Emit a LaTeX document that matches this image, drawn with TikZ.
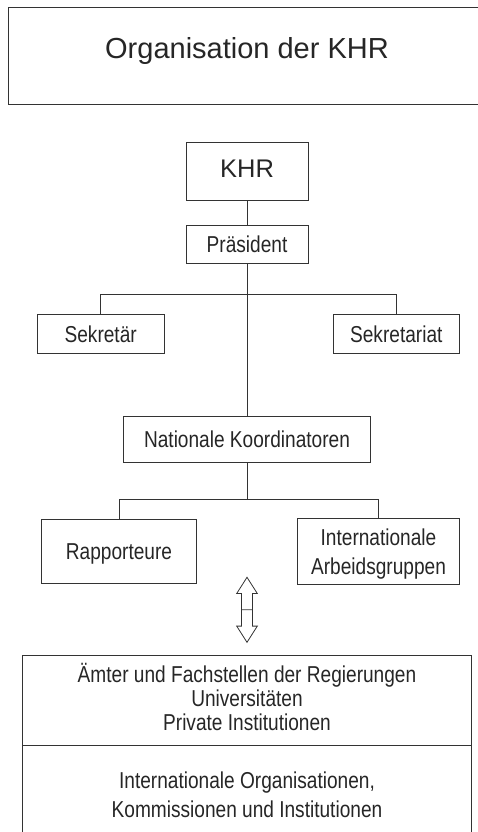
\documentclass[tikz,border=0pt]{standalone}
\usepackage{fontspec}
\setmainfont{Liberation Sans}
\newfontfamily\unitfont[FakeStretch=0.83]{Liberation Sans}
\tikzstyle{titlebox} = [rectangle, minimum width=478pt, minimum height=97pt, text centered, draw=black!80, text=black!85, font=\fontsize{29}{34}\selectfont, text height=20.8pt, text depth=14.4pt]
\tikzstyle{top} = [rectangle, minimum width=122pt, minimum height=58pt, text centered, draw=black!80, text=black!85, font=\fontsize{25.5}{30}\selectfont, text height=18.3pt, text depth=4.9pt]
\tikzstyle{unit} = [rectangle, minimum height=39pt, text centered, draw=black!80, text=black!85, font=\unitfont\fontsize{23}{28}\selectfont, text height=16.8pt, text depth=0pt]
\tikzstyle{group} = [rectangle, align=center, draw=black!80, text=black!85, font=\unitfont\fontsize{23}{29}\selectfont, text height=45.8pt, text depth=0pt]
\tikzstyle{line} = [line width=0.8pt, draw=black!80]

\begin{document}
\begin{tikzpicture}[line width=0.8pt]
\useasboundingbox (0,0) rectangle (477pt,-832pt);

\node (title) [titlebox] at (247pt,-55.5pt) {Organisation der KHR};

\node (khr) [top, below of=title, node distance=115.5pt] {KHR};
\node (pres) [unit, minimum width=122pt, minimum height=38pt, below of=khr, node distance=73pt] {Präsident};
\draw [line] (khr)--(pres);

\node (sek) [unit, minimum width=126.7pt, below of=pres, node distance=89.8pt, xshift=-146.3pt] {Sekretär};
\node (sekt) [unit, minimum width=126pt, below of=pres, node distance=89.8pt, xshift=149.3pt] {Sekretariat};
\node (natko) [unit, minimum width=246.7pt, minimum height=45.6pt, below of=pres, node distance=195.5pt] {Nationale Koordinatoren};
\coordinate (fork1) at ([yshift=20pt]sek.north -| pres);
\draw [line] (pres)--(natko);
\draw [line] (sek)|-(fork1)-|(sekt);

\node (rap) [unit, minimum width=155.7pt, minimum height=64.7pt, below of=natko, node distance=112pt, xshift=-128pt] {Rapporteure};
\node (iag) [group, minimum width=162pt, minimum height=65.3pt, below of=natko, node distance=112pt, xshift=131.5pt] {Internationale\\Arbeidsgruppen};
\coordinate (fork2) at ([yshift=19.5pt]rap.north -| natko);
\draw [line] (natko)--(fork2);
\draw [line] (rap)|-(fork2)-|(iag);

% double arrow
\coordinate [below of=natko, node distance=170.3pt] (arr);
\draw [line, shift={(arr)}, x=1pt, y=1pt] (-5.5,0)--(-5.5,16.3)--(-10.3,16.3)--(0,32.5)--(10.3,16.3)--(5.5,16.3)--(5.5,-16.3)--(10.3,-16.3)--(0,-32.5)--(-10.3,-16.3)--(-5.5,-16.3)--cycle (-5.5,0)--(5.5,0);

\node (amt) [group, font=\unitfont\fontsize{23}{24}\selectfont, text height=61.4pt, minimum width=449.7pt, minimum height=90pt, below of=natko, node distance=260.5pt] {Ämter und Fachstellen der Regierungen\\Universitäten\\Private Institutionen};
\node (intorg) [group, minimum width=449.7pt, minimum height=98.8pt, below of=amt, node distance=94.4pt] {Internationale Organisationen,\\Kommissionen und Institutionen};
\end{tikzpicture}
\end{document}
